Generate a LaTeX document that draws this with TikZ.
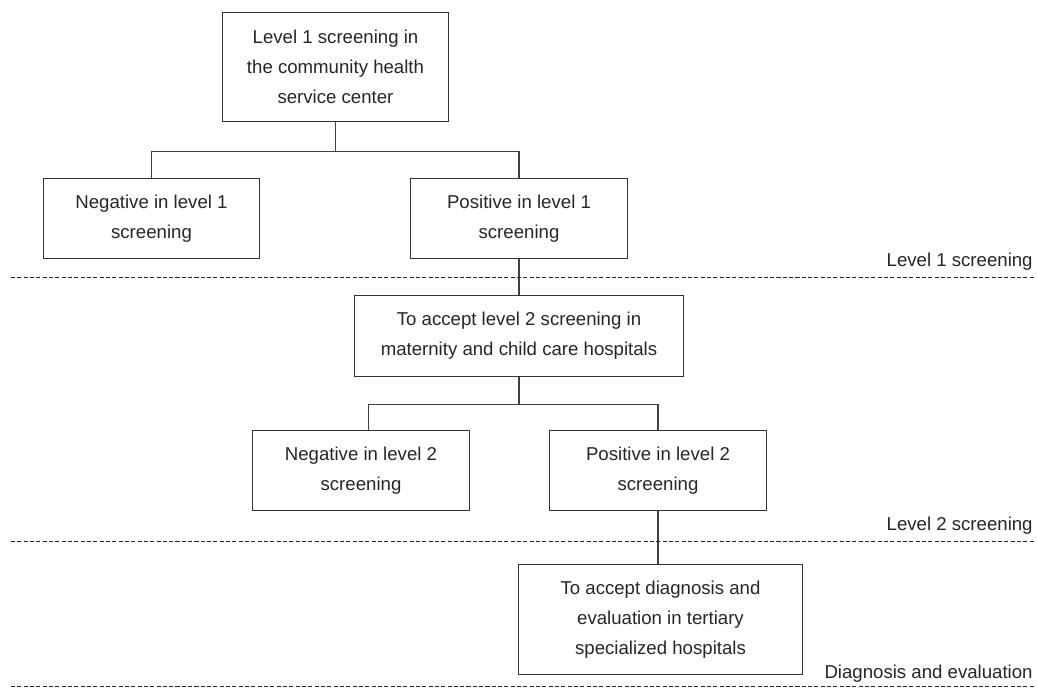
\documentclass[tikz,border=0pt]{standalone}
\usepackage{fontspec}
\setmainfont{Liberation Sans}
\begin{document}
\begin{tikzpicture}[
        box/.style={draw=black!80, line width=0.7pt, align=center, text=black!85, inner sep=0pt, font=\fontsize{10.6}{17}\selectfont},
        link/.style={draw=black!75, line width=0.7pt},
        level/.style={draw=black!85, line width=0.6pt, dash pattern=on 2.3pt off 1.3pt},
        tag/.style={anchor=base east, text=black!85, inner sep=0pt, font=\fontsize{10.6}{17}\selectfont}]
        \useasboundingbox (0,0) rectangle (20.74,13.76);

        \node[box, minimum width=4.51cm, minimum height=2.17cm] (com) at (6.71,12.42) {Level 1 screening in\\the community health\\service center};

        \node[box, minimum width=4.33cm, minimum height=1.59cm] (neg1) at (3.03,9.39) {Negative in level 1\\screening};
        \node[box, minimum width=4.33cm, minimum height=1.59cm] (pos1) at (10.38,9.39) {Positive in level 1\\screening};

        \node[box, minimum width=6.59cm, minimum height=1.61cm] (acc) at (10.38,7.04) {To accept level 2 screening in\\maternity and child care hospitals};

        \node[box, minimum width=4.34cm, minimum height=1.59cm] (neg2) at (7.22,4.35) {Negative in level 2\\screening};
        \node[box, minimum width=4.34cm, minimum height=1.59cm] (pos2) at (13.16,4.35) {Positive in level 2\\screening};

        \node[box, minimum width=5.68cm, minimum height=2.19cm] (diag) at (13.21,1.37) {To accept diagnosis and\\evaluation in tertiary\\specialized hospitals};

        \draw[link] (com.south) -- ++(0,-0.6) coordinate (fork1);
        \draw[link] (neg1.north) |- (fork1) -| (pos1.north);
        \draw[link] (pos1.south) -- (pos1.south |- acc.north);

        \draw[link] (acc.south) -- ++(0,-0.56) coordinate (fork2);
        \draw[link] ([xshift=0.15cm]neg2.north) |- (fork2) -| (pos2.north);
        \draw[link] (pos2.south) -- (pos2.south |- diag.north);

        \draw[level] (0.22,8.21) -- (20.70,8.21);
        \draw[level] (0.22,2.93) -- (20.70,2.93);
        \draw[level] (0.22,0.03) -- (20.70,0.03);

        \node[tag] (lev1) at (20.66,8.43) {Level 1 screening};
        \node[tag] (lev2) at (20.66,3.15) {Level 2 screening};
        \node[tag] (lev3) at (20.66,0.2) {Diagnosis and evaluation};
    \end{tikzpicture}
\end{document}
